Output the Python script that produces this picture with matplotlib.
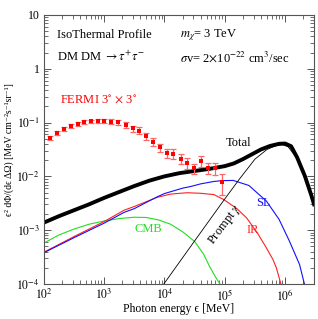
import numpy as np
import matplotlib.pyplot as plt

plt.rcParams['font.family'] = ['Liberation Serif', 'DejaVu Serif']
plt.rcParams['mathtext.fontset'] = 'stix'

# FERMI 3x3 data (MeV, MeV cm^-2 s^-1 sr^-1)
fermi_E = [126, 166, 215, 281, 362, 467, 603, 778, 1002, 1294, 1710, 2270, 2965,
           3819, 4932, 6516, 8414, 10890, 13990, 18450, 23880, 31260, 40830,
           52720, 68080, 88920]
fermi_F = [0.0516, 0.064, 0.076, 0.0875, 0.0955, 0.1026, 0.105, 0.108, 0.107,
           0.104, 0.101, 0.0914, 0.078, 0.0707, 0.0553, 0.0441, 0.0345, 0.0272,
           0.0264, 0.0213, 0.0177, 0.0140, 0.0195, 0.0145, 0.0140, 0.0078]
fermi_rel = [0.08, 0.08, 0.08, 0.08, 0.08, 0.08, 0.08, 0.08, 0.10, 0.10, 0.12,
             0.12, 0.13, 0.15, 0.15, 0.17, 0.18, 0.18, 0.20, 0.20, 0.22, 0.22,
             0.24, 0.24, 0.24, 0.42]

# curves, log10(E/MeV) vs log10(flux)
sl_x = [2.0, 2.5, 3.0, 3.33, 3.5, 3.88, 4.0, 4.3, 4.43, 4.6, 4.82, 4.95, 5.14,
        5.4, 5.69, 5.9, 6.07, 6.24, 6.32]
sl_y = [-3.42, -3.14, -2.87, -2.67, -2.60, -2.38, -2.32, -2.22, -2.19, -2.14,
        -2.095, -2.08, -2.076, -2.17, -2.46, -2.80, -3.20, -3.64, -4.0]

ir_x = [2.0, 2.5, 3.0, 3.33, 3.5, 3.88, 4.1, 4.37, 4.6, 4.82, 4.98, 5.2, 5.36,
        5.55, 5.69, 5.8, 5.855, 5.93]
ir_y = [-3.41, -3.12, -2.84, -2.63, -2.56, -2.39, -2.33, -2.305, -2.315, -2.34,
        -2.43, -2.60, -2.77, -3.07, -3.33, -3.55, -3.70, -4.0]

cmb_x = [2.0, 2.25, 2.5, 2.75, 3.0, 3.25, 3.5, 3.7, 3.9, 4.1, 4.3, 4.5, 4.65,
         4.75, 4.85, 4.92]
cmb_y = [-3.24, -3.09, -2.98, -2.89, -2.83, -2.785, -2.76, -2.765, -2.81, -2.89,
         -3.03, -3.21, -3.45, -3.68, -3.88, -4.0]

prompt_x = [3.99, 4.5, 5.0, 5.25, 5.5, 5.7, 5.85, 5.95, 6.05, 6.2, 6.33, 6.44, 6.48]
prompt_y = [-4.0, -3.2, -2.42, -2.04, -1.68, -1.50, -1.43, -1.41, -1.45, -1.67,
            -2.01, -2.38, -2.53]

total_x = [2.0, 2.25, 2.5, 2.75, 3.0, 3.25, 3.5, 3.75, 4.0, 4.25, 4.5, 4.75, 5.0,
           5.15, 5.3, 5.45, 5.6, 5.75, 5.9, 6.0, 6.1, 6.2, 6.33, 6.44, 6.48]
total_y = [-2.86, -2.74, -2.63, -2.52, -2.40, -2.29, -2.18, -2.08, -2.00, -1.94,
           -1.90, -1.86, -1.81, -1.76, -1.68, -1.59, -1.50, -1.435, -1.395,
           -1.39, -1.44, -1.65, -2.0, -2.37, -2.52]

fig = plt.figure(figsize=(3.18, 3.19), dpi=100)
ax = fig.add_axes([0.138, 0.110, 0.849, 0.843])

def p(lx, ly):
    return 10**np.array(lx), 10**np.array(ly)

ax.plot(*p(cmb_x, cmb_y), color='#22dd22', lw=0.8)
ax.plot(*p(ir_x, ir_y), color='#ff2020', lw=0.8)
ax.plot(*p(sl_x, sl_y), color='#1010ff', lw=0.8)
ax.plot(*p(prompt_x, prompt_y), color='black', lw=0.6)
ax.plot(*p(total_x, total_y), color='black', lw=2.8)

F = np.array(fermi_F)
ax.errorbar(fermi_E, F, yerr=F*np.array(fermi_rel), fmt='none',
            ecolor='#ff6666', elinewidth=0.9, capsize=2.2, capthick=0.9)
ax.plot(fermi_E, F, 's', color='#ff0000', ms=3.2, mew=0)

ax.set_xscale('log')
ax.set_yscale('log')
ax.set_xlim(1e2, 3e6)
ax.set_ylim(1e-4, 10)

ax.set_xticks([1e2, 1e3, 1e4, 1e5, 1e6])
ax.set_xticklabels(['$10^{2}$', '$10^{3}$', '$10^{4}$', '$10^{5}$', '$10^{6}$'])
ax.set_yticks([1e-4, 1e-3, 1e-2, 1e-1, 1, 10])
ax.set_yticklabels(['$10^{-4}$', '$10^{-3}$', '$10^{-2}$', '$10^{-1}$', '1', '10'])
ax.tick_params(which='both', direction='in', top=True, right=True,
               color='#555555', labelsize=8.5)
ax.tick_params(which='major', length=5, width=0.7, pad=3)
ax.tick_params(which='minor', length=2.8, width=0.6)
for s in ax.spines.values():
    s.set_color('#555555')
    s.set_linewidth(0.8)

ax.set_xlabel('Photon energy ϵ [MeV]', fontsize=8.5, labelpad=0)
ax.set_ylabel('ϵ² dΦ/(dϵ ΔΩ) [MeV cm⁻²s⁻¹sr⁻¹]', fontsize=7, labelpad=0)
ax.yaxis.set_label_coords(-0.11, 0.5)

kw = dict(transform=ax.transAxes, fontsize=9, va='center')
ax.text(0.048, 0.926, 'IsoThermal Profile', **kw)
ax.text(0.048, 0.846, r'DM DM $\rightarrow \tau^{+}\tau^{-}$', **kw)
ax.text(0.504, 0.926, r'$m_\chi$= 3 TeV', **kw)
ax.text(0.504, 0.844, r'$\sigma$v= 2$\times$10$^{-22}$ cm$^3$/sec', **kw)
ax.text(0.059, 0.684, r'FERMI 3$^{\circ}$ $\times$ 3$^{\circ}$', color='#ff0000', **kw)
ax.text(0.674, 0.524, 'Total', **kw)
ax.text(0.785, 0.301, 'SL', color='#1010ff', **kw)
ax.text(0.752, 0.200, 'IR', color='#ff2020', **kw)
ax.text(0.337, 0.204, 'CMB', color='#22dd22', **kw)
ax.text(0.672, 0.222, r'Prompt $\gamma$', transform=ax.transAxes, fontsize=9,
        rotation=53, ha='center', va='center', rotation_mode='anchor')

fig.savefig('out.png', dpi=100)
